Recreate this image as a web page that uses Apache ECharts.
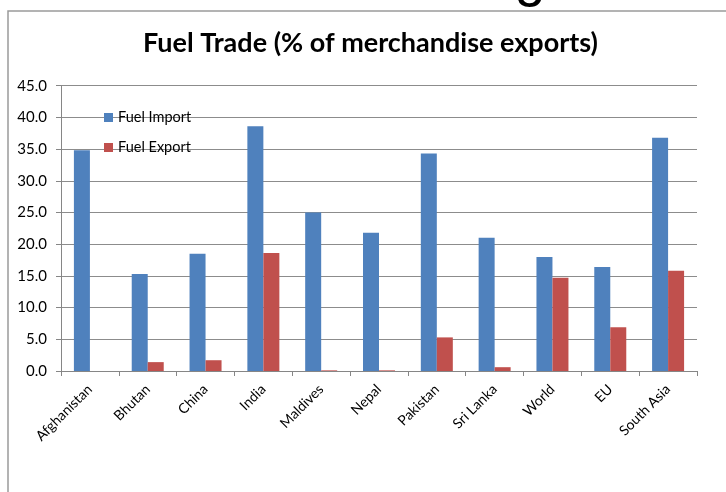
<!DOCTYPE html>
<html>
<head>
<meta charset="utf-8">
<script src="https://cdn.jsdelivr.net/npm/echarts@6/dist/echarts.min.js"></script>
<style>html,body{margin:0;padding:0;background:#fff;}#c{width:726px;height:492px;}</style>
</head>
<body>
<div id="c"></div>
<script>
const categories = ['Afghanistan','Bhutan','China','India','Maldives','Nepal','Pakistan','Sri Lanka','World','EU','South Asia'];
const fuelImport = [34.8, 15.3, 18.5, 38.6, 25.0, 21.8, 34.3, 21.0, 18.0, 16.4, 36.8];
const fuelExport = [0.0, 1.4, 1.7, 18.6, 0.1, 0.1, 5.3, 0.6, 14.7, 6.9, 15.8];
const yTicks = {min: 0, max: 45, interval: 5};

const FONT = 'Lato, "Open Sans", sans-serif';
const chart = echarts.init(document.getElementById('c'), null, {renderer: 'canvas'});
chart.setOption({
  backgroundColor: '#fff',
  animation: false,
  title: {
    text: 'Fuel Trade (% of merchandise exports)',
    left: 143, top: 30, padding: 0,
    textStyle: {fontFamily: FONT, fontSize: 27, fontWeight: 'bold', color: '#000'}
  },
  graphic: [
    {type: 'rect', shape: {x: 8, y: 11, width: 760, height: 520}, style: {fill: 'none', stroke: '#9a9a9a', lineWidth: 1.5}, silent: true},
    {type: 'text', style: {x: 530, y: 8, text: 'g', align: 'center', verticalAlign: 'bottom', font: '56px "Liberation Sans", sans-serif', fill: '#000'}, silent: true}
  ],
  legend: {
    orient: 'vertical', left: 104, top: 110, itemGap: 15, padding: 0,
    icon: 'rect', itemWidth: 9, itemHeight: 9,
    textStyle: {fontFamily: FONT, fontSize: 14.5, color: '#000'},
    data: ['Fuel Import', 'Fuel Export']
  },
  grid: {left: 61, right: 29, top: 85.7, bottom: 121, containLabel: false},
  xAxis: {
    type: 'category', data: categories,
    axisLine: {lineStyle: {color: '#868686', width: 1}},
    axisTick: {show: true, length: 5, lineStyle: {color: '#868686'}},
    axisLabel: {interval: 0, rotate: 45, margin: 16, fontFamily: FONT, fontSize: 14, color: '#000'},
    splitLine: {show: false}
  },
  yAxis: {
    type: 'value', min: yTicks.min, max: yTicks.max, interval: yTicks.interval,
    axisLine: {show: true, lineStyle: {color: '#868686'}},
    axisTick: {show: true, length: 5, lineStyle: {color: '#868686'}},
    axisLabel: {margin: 14, fontFamily: FONT, fontSize: 15, color: '#000', formatter: v => v.toFixed(1)},
    splitLine: {show: true, lineStyle: {color: '#8c8c8c', width: 1}}
  },
  series: [
    {name: 'Fuel Import', type: 'bar', data: fuelImport, barWidth: 16, barGap: '0%', itemStyle: {color: '#4F81BD'}},
    {name: 'Fuel Export', type: 'bar', data: fuelExport, barWidth: 16, itemStyle: {color: '#C0504D'}}
  ]
});
</script>
</body>
</html>
